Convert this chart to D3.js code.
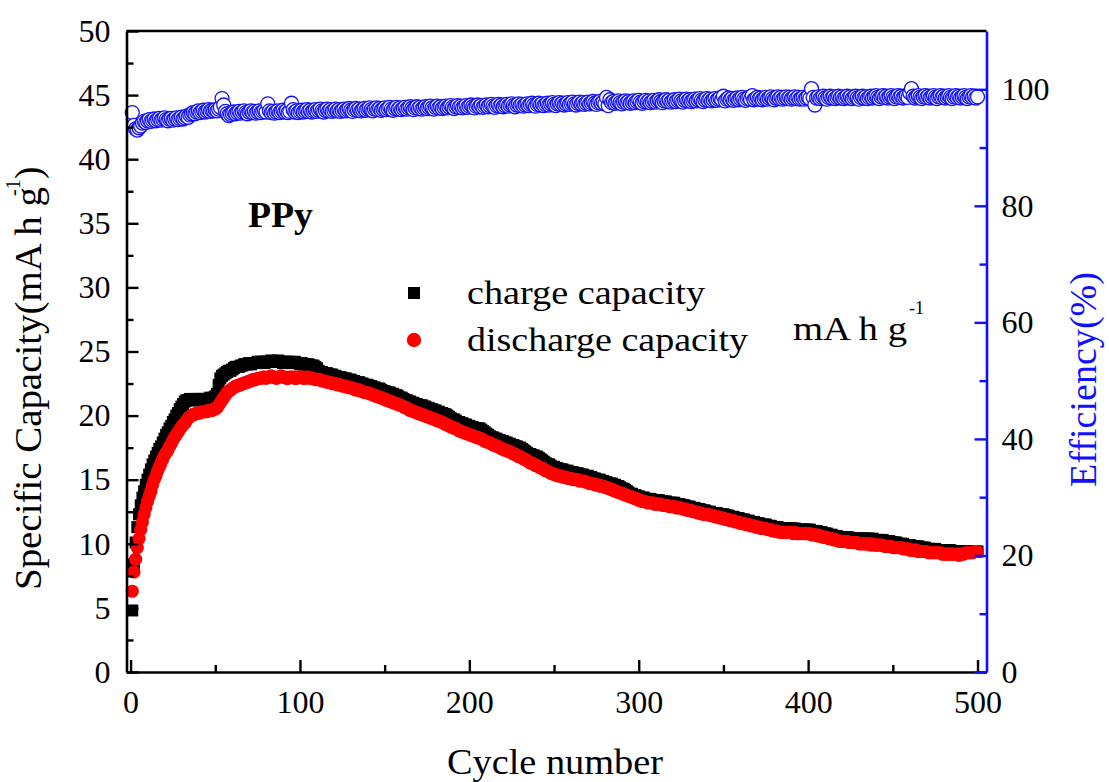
<!DOCTYPE html>
<html>
<head>
<meta charset="utf-8">
<script src="https://cdn.jsdelivr.net/npm/d3@7/dist/d3.min.js"></script>
<style>
  body { margin: 0; background: #fff; }
  svg text { font-family: "Liberation Serif", "Times New Roman", Times, serif; fill: #000; }
</style>
</head>
<body>
<svg id="chart" width="1109" height="782"></svg>
<script>
'use strict';

/* Data, one value per cycle (cycle 1 .. 500) */

var chargeCapacity = [
  4.8, 8.4, 10.1, 11.3, 12.3, 13.0, 13.6, 14.1, 14.6, 15.0, 15.4, 15.8, 16.2, 16.5, 16.8, 17.1, 17.4, 17.6, 17.9, 18.2, 18.5, 18.7, 19.0, 19.2, 19.5,
  19.7, 20.0, 20.2, 20.5, 20.7, 20.9, 21.1, 21.2, 21.2, 21.3, 21.2, 21.2, 21.3, 21.2, 21.3, 21.2, 21.3, 21.3, 21.2, 21.3, 21.3, 21.4, 21.3, 21.4, 21.5,
  21.7, 22.4, 22.9, 23.1, 23.2, 23.3, 23.4, 23.5, 23.5, 23.6, 23.7, 23.8, 23.8, 23.8, 23.9, 23.9, 24.0, 24.0, 24.0, 24.1, 24.0, 24.1, 24.1, 24.1, 24.2,
  24.1, 24.2, 24.2, 24.1, 24.2, 24.2, 24.2, 24.3, 24.2, 24.2, 24.2, 24.3, 24.2, 24.2, 24.1, 24.2, 24.2, 24.1, 24.2, 24.1, 24.1, 24.2, 24.1, 24.1, 24.0,
  24.1, 24.0, 24.0, 24.0, 24.0, 23.9, 23.9, 23.9, 23.8, 23.7, 23.5, 23.4, 23.4, 23.3, 23.3, 23.3, 23.2, 23.2, 23.2, 23.1, 23.1, 23.0, 23.0, 23.0, 22.9,
  22.9, 22.9, 22.8, 22.8, 22.8, 22.7, 22.7, 22.6, 22.6, 22.6, 22.5, 22.5, 22.4, 22.4, 22.4, 22.3, 22.3, 22.2, 22.2, 22.1, 22.1, 22.1, 22.0, 21.9, 21.9,
  21.8, 21.8, 21.8, 21.7, 21.7, 21.6, 21.6, 21.5, 21.4, 21.4, 21.3, 21.2, 21.2, 21.1, 21.1, 21.0, 21.0, 20.9, 20.9, 20.8, 20.8, 20.8, 20.7, 20.7, 20.6,
  20.6, 20.5, 20.5, 20.4, 20.4, 20.3, 20.3, 20.2, 20.2, 20.1, 20.1, 20.0, 19.9, 19.8, 19.7, 19.7, 19.6, 19.5, 19.5, 19.4, 19.4, 19.3, 19.3, 19.2, 19.2,
  19.1, 19.1, 19.0, 19.0, 19.0, 19.0, 18.9, 18.8, 18.7, 18.6, 18.5, 18.4, 18.3, 18.3, 18.2, 18.2, 18.1, 18.1, 18.0, 18.0, 17.9, 17.9, 17.8, 17.8, 17.7,
  17.7, 17.6, 17.6, 17.5, 17.5, 17.4, 17.3, 17.2, 17.1, 17.0, 17.0, 16.9, 16.9, 16.8, 16.8, 16.7, 16.6, 16.5, 16.4, 16.3, 16.2, 16.2, 16.1, 16.0, 16.0,
  15.9, 15.9, 15.8, 15.8, 15.8, 15.7, 15.7, 15.7, 15.6, 15.6, 15.6, 15.5, 15.5, 15.5, 15.4, 15.4, 15.4, 15.3, 15.3, 15.3, 15.2, 15.2, 15.1, 15.1, 15.0,
  15.0, 15.0, 14.9, 14.9, 14.8, 14.8, 14.7, 14.7, 14.7, 14.6, 14.6, 14.5, 14.5, 14.4, 14.3, 14.3, 14.2, 14.1, 14.0, 13.9, 13.9, 13.8, 13.8, 13.7, 13.7,
  13.6, 13.6, 13.6, 13.5, 13.5, 13.5, 13.5, 13.4, 13.4, 13.4, 13.4, 13.4, 13.3, 13.3, 13.3, 13.3, 13.2, 13.2, 13.2, 13.2, 13.2, 13.1, 13.1, 13.1, 13.0,
  13.0, 13.0, 12.9, 12.9, 12.9, 12.8, 12.8, 12.8, 12.7, 12.7, 12.7, 12.6, 12.6, 12.6, 12.5, 12.5, 12.5, 12.4, 12.4, 12.4, 12.4, 12.3, 12.3, 12.3, 12.3,
  12.2, 12.2, 12.2, 12.1, 12.1, 12.1, 12.0, 12.0, 12.0, 11.9, 11.9, 11.9, 11.8, 11.8, 11.8, 11.7, 11.7, 11.7, 11.6, 11.6, 11.6, 11.5, 11.5, 11.5, 11.5,
  11.4, 11.4, 11.4, 11.3, 11.3, 11.3, 11.3, 11.2, 11.2, 11.2, 11.2, 11.2, 11.2, 11.2, 11.2, 11.1, 11.2, 11.1, 11.1, 11.1, 11.1, 11.1, 11.1, 11.1, 11.1,
  11.1, 11.0, 11.0, 11.0, 11.0, 10.9, 10.9, 10.9, 10.8, 10.8, 10.8, 10.7, 10.7, 10.7, 10.6, 10.6, 10.6, 10.5, 10.5, 10.5, 10.5, 10.5, 10.5, 10.5, 10.4,
  10.4, 10.4, 10.4, 10.4, 10.4, 10.4, 10.4, 10.4, 10.4, 10.4, 10.4, 10.3, 10.4, 10.3, 10.3, 10.3, 10.3, 10.3, 10.3, 10.2, 10.2, 10.2, 10.2, 10.1, 10.1,
  10.1, 10.1, 10.0, 10.0, 10.0, 10.0, 9.9, 9.9, 9.9, 9.9, 9.8, 9.8, 9.8, 9.8, 9.8, 9.7, 9.7, 9.7, 9.7, 9.6, 9.6, 9.6, 9.6, 9.6, 9.6,
  9.5, 9.5, 9.5, 9.5, 9.5, 9.5, 9.5, 9.5, 9.5, 9.4, 9.4, 9.4, 9.4, 9.4, 9.4, 9.4, 9.4, 9.4, 9.4, 9.4, 9.4, 9.4, 9.4, 9.4, 9.4
];

var dischargeCapacity = [
  6.3, 7.8, 8.8, 9.7, 10.4, 11.1, 11.7, 12.3, 12.8, 13.3, 13.7, 14.1, 14.6, 15.0, 15.3, 15.7, 16.0, 16.3, 16.6, 16.9, 17.1, 17.3, 17.6, 17.8, 18.1,
  18.3, 18.5, 18.7, 18.9, 19.1, 19.3, 19.4, 19.6, 19.8, 19.9, 20.0, 20.1, 20.1, 20.2, 20.2, 20.2, 20.3, 20.3, 20.3, 20.3, 20.4, 20.4, 20.4, 20.5, 20.5,
  20.6, 20.8, 21.0, 21.2, 21.4, 21.6, 21.8, 21.9, 22.0, 22.1, 22.2, 22.3, 22.3, 22.4, 22.4, 22.5, 22.5, 22.6, 22.6, 22.7, 22.7, 22.8, 22.8, 22.8, 22.9,
  22.9, 22.9, 23.0, 23.0, 22.9, 23.0, 23.0, 23.1, 23.0, 23.0, 22.9, 23.0, 23.0, 23.1, 23.0, 23.0, 22.9, 22.9, 23.0, 23.0, 23.0, 22.9, 22.9, 23.0, 23.0,
  23.0, 22.9, 22.9, 23.0, 23.0, 22.9, 22.9, 22.9, 22.8, 22.8, 22.8, 22.8, 22.7, 22.7, 22.7, 22.6, 22.6, 22.6, 22.5, 22.5, 22.5, 22.4, 22.4, 22.4, 22.3,
  22.3, 22.3, 22.2, 22.2, 22.2, 22.1, 22.1, 22.0, 22.0, 22.0, 21.9, 21.9, 21.8, 21.8, 21.8, 21.7, 21.7, 21.6, 21.6, 21.5, 21.5, 21.4, 21.4, 21.3, 21.3,
  21.2, 21.2, 21.1, 21.1, 21.0, 21.0, 20.9, 20.9, 20.8, 20.8, 20.7, 20.6, 20.6, 20.5, 20.4, 20.4, 20.3, 20.3, 20.2, 20.2, 20.1, 20.1, 20.0, 20.0, 19.9,
  19.9, 19.8, 19.8, 19.7, 19.7, 19.6, 19.6, 19.5, 19.5, 19.4, 19.3, 19.3, 19.2, 19.1, 19.1, 19.0, 19.0, 18.9, 18.8, 18.8, 18.7, 18.7, 18.6, 18.6, 18.5,
  18.5, 18.4, 18.4, 18.3, 18.3, 18.2, 18.2, 18.1, 18.0, 18.0, 17.9, 17.9, 17.8, 17.7, 17.7, 17.6, 17.6, 17.5, 17.4, 17.4, 17.3, 17.3, 17.2, 17.2, 17.1,
  17.0, 17.0, 16.9, 16.8, 16.8, 16.7, 16.6, 16.6, 16.5, 16.4, 16.3, 16.3, 16.2, 16.1, 16.1, 16.0, 15.9, 15.9, 15.8, 15.7, 15.7, 15.6, 15.5, 15.5, 15.4,
  15.4, 15.3, 15.3, 15.3, 15.2, 15.2, 15.2, 15.1, 15.1, 15.1, 15.0, 15.0, 15.0, 15.0, 14.9, 14.9, 14.9, 14.9, 14.8, 14.8, 14.7, 14.7, 14.7, 14.6, 14.6,
  14.6, 14.5, 14.5, 14.5, 14.4, 14.4, 14.3, 14.3, 14.2, 14.2, 14.1, 14.1, 14.0, 14.0, 13.9, 13.9, 13.8, 13.8, 13.7, 13.7, 13.6, 13.6, 13.5, 13.5, 13.4,
  13.4, 13.3, 13.3, 13.3, 13.2, 13.2, 13.2, 13.2, 13.1, 13.1, 13.1, 13.1, 13.1, 13.0, 13.0, 13.0, 13.0, 12.9, 12.9, 12.9, 12.9, 12.8, 12.8, 12.8, 12.8,
  12.7, 12.7, 12.7, 12.6, 12.6, 12.6, 12.5, 12.5, 12.5, 12.4, 12.4, 12.4, 12.3, 12.3, 12.3, 12.3, 12.2, 12.2, 12.2, 12.1, 12.1, 12.1, 12.0, 12.0, 12.0,
  11.9, 11.9, 11.9, 11.8, 11.8, 11.8, 11.7, 11.7, 11.7, 11.6, 11.6, 11.6, 11.5, 11.5, 11.5, 11.4, 11.4, 11.4, 11.3, 11.3, 11.3, 11.2, 11.2, 11.2, 11.2,
  11.1, 11.1, 11.1, 11.0, 11.0, 11.0, 11.0, 10.9, 10.9, 10.9, 10.9, 10.9, 10.9, 10.9, 10.9, 10.8, 10.9, 10.8, 10.8, 10.8, 10.8, 10.8, 10.8, 10.8, 10.8,
  10.8, 10.7, 10.7, 10.7, 10.7, 10.6, 10.6, 10.6, 10.5, 10.5, 10.5, 10.4, 10.4, 10.4, 10.3, 10.3, 10.3, 10.2, 10.2, 10.2, 10.2, 10.2, 10.2, 10.1, 10.1,
  10.1, 10.1, 10.1, 10.1, 10.0, 10.0, 10.0, 10.0, 10.0, 10.0, 10.0, 9.9, 10.0, 9.9, 9.9, 9.9, 9.9, 9.9, 9.9, 9.8, 9.8, 9.8, 9.8, 9.8, 9.7,
  9.7, 9.7, 9.7, 9.7, 9.7, 9.6, 9.6, 9.6, 9.6, 9.5, 9.5, 9.5, 9.5, 9.5, 9.4, 9.4, 9.4, 9.4, 9.4, 9.4, 9.3, 9.3, 9.3, 9.3, 9.3,
  9.3, 9.3, 9.3, 9.2, 9.2, 9.2, 9.2, 9.2, 9.2, 9.2, 9.2, 9.2, 9.2, 9.1, 9.2, 9.2, 9.2, 9.3, 9.3, 9.3, 9.3, 9.3, 9.4, 9.4, 9.4
];

var efficiency = [
  96.0, 93.8, 93.2, 93.0, 93.4, 93.7, 94.2, 94.5, 94.3, 94.6, 94.8, 94.5, 94.7, 94.9, 94.6, 94.8, 95.0, 94.7, 94.9, 95.1, 94.8, 94.6, 94.9, 95.0, 94.7,
  94.9, 95.1, 94.8, 95.0, 95.2, 94.9, 95.1, 95.4, 95.2, 95.6, 95.8, 96.0, 95.8, 96.1, 96.3, 96.0, 96.2, 96.4, 96.1, 96.3, 96.5, 96.2, 96.4, 96.3, 96.5,
  96.3, 96.6, 96.9, 98.4, 97.3, 96.2, 95.8, 95.5, 95.7, 95.9, 96.1, 95.8, 96.0, 96.2, 95.9, 96.1, 96.3, 96.0, 95.8, 96.1, 96.3, 96.0, 96.2, 95.9, 96.1,
  96.3, 96.0, 96.2, 96.4, 96.1, 97.5, 96.3, 96.0, 96.2, 95.9, 96.1, 96.3, 96.0, 96.2, 96.4, 96.1, 96.3, 96.0, 96.2, 97.6, 96.5, 96.1, 96.3, 96.0, 96.2,
  96.4, 96.1, 96.3, 96.5, 96.2, 96.4, 96.1, 96.3, 96.5, 96.2, 96.4, 96.6, 96.3, 96.1, 96.4, 96.6, 96.3, 96.5, 96.2, 96.4, 96.6, 96.3, 96.5, 96.2, 96.4,
  96.6, 96.3, 96.5, 96.7, 96.4, 96.2, 96.5, 96.7, 96.4, 96.6, 96.3, 96.5, 96.7, 96.4, 96.6, 96.8, 96.5, 96.3, 96.6, 96.8, 96.5, 96.7, 96.4, 96.6, 96.8,
  96.5, 96.7, 96.9, 96.6, 96.4, 96.7, 96.9, 96.6, 96.8, 96.5, 96.7, 96.9, 96.6, 96.8, 97.0, 96.7, 96.5, 96.8, 97.0, 96.7, 96.9, 96.6, 96.8, 97.0, 96.7,
  96.9, 97.1, 96.8, 96.6, 96.9, 97.1, 96.8, 97.0, 96.7, 96.9, 97.1, 96.8, 97.0, 97.2, 96.9, 96.7, 97.0, 97.2, 96.9, 97.1, 96.8, 97.0, 97.2, 96.9, 97.1,
  97.3, 97.0, 96.8, 97.1, 97.3, 97.0, 97.2, 96.9, 97.1, 97.3, 97.0, 97.2, 97.4, 97.1, 96.9, 97.2, 97.4, 97.1, 97.3, 97.0, 97.2, 97.4, 97.1, 97.3, 97.5,
  97.2, 97.0, 97.3, 97.5, 97.2, 97.4, 97.1, 97.3, 97.5, 97.2, 97.4, 97.6, 97.3, 97.1, 97.4, 97.6, 97.3, 97.5, 97.2, 97.4, 97.6, 97.3, 97.5, 97.7, 97.4,
  97.2, 97.5, 97.7, 97.4, 97.6, 97.3, 97.5, 97.7, 97.4, 97.6, 97.8, 97.5, 97.3, 97.6, 97.8, 97.5, 97.7, 97.4, 97.6, 97.8, 97.5, 97.7, 97.9, 97.6, 97.4,
  97.7, 97.9, 97.6, 97.8, 97.5, 98.6, 97.2, 98.2, 97.7, 97.9, 97.6, 97.8, 98.0, 97.7, 97.5, 97.8, 98.0, 97.7, 97.9, 97.6, 97.8, 98.0, 97.7, 97.9, 98.1,
  97.8, 97.6, 97.9, 98.1, 97.8, 98.0, 97.7, 97.9, 98.1, 97.8, 98.0, 98.2, 97.9, 97.7, 98.0, 98.2, 97.9, 98.1, 97.8, 98.0, 98.2, 97.9, 98.1, 98.3, 98.0,
  97.8, 98.1, 98.3, 98.0, 98.2, 97.9, 98.1, 98.3, 98.0, 98.2, 98.4, 98.1, 97.9, 98.2, 98.4, 98.1, 98.3, 98.0, 98.2, 98.4, 98.1, 98.3, 98.5, 98.2, 98.8,
  98.0, 98.3, 98.5, 98.2, 98.4, 98.1, 98.3, 98.5, 98.2, 98.4, 98.6, 98.3, 98.1, 98.4, 98.6, 98.3, 98.9, 98.2, 98.4, 98.6, 98.3, 98.5, 98.2, 98.4, 98.6,
  98.3, 98.5, 98.7, 98.4, 98.2, 98.5, 98.7, 98.4, 98.6, 98.3, 98.5, 98.7, 98.4, 98.6, 98.3, 98.5, 98.7, 98.4, 98.6, 98.3, 98.4, 98.6, 98.3, 98.5, 98.7,
  98.4, 100.1, 98.6, 97.3, 98.5, 98.7, 98.4, 98.6, 98.8, 98.5, 98.3, 98.6, 98.8, 98.5, 98.7, 98.4, 98.6, 98.8, 98.5, 98.7, 98.4, 98.6, 98.8, 98.5, 98.7,
  98.4, 98.6, 98.8, 98.5, 98.3, 98.6, 98.8, 98.5, 98.7, 98.4, 98.6, 98.8, 98.5, 98.7, 98.9, 98.6, 98.4, 98.7, 98.9, 98.6, 98.8, 98.5, 98.7, 98.9, 98.6,
  98.4, 98.7, 98.9, 98.6, 98.8, 98.5, 98.7, 98.9, 98.6, 99.4, 100.1, 98.8, 98.5, 98.7, 98.9, 98.6, 98.4, 98.7, 98.9, 98.6, 98.8, 98.5, 98.7, 98.9, 98.6,
  98.4, 98.7, 98.9, 98.6, 98.8, 98.5, 98.7, 98.9, 98.6, 98.4, 98.7, 98.9, 98.6, 98.8, 98.5, 98.7, 98.9, 98.6, 98.4, 98.7, 98.9, 98.6, 98.8, 98.5, 98.7
];

var xTicks = [0, 100, 200, 300, 400, 500];
var xMinorTicks = [50, 150, 250, 350, 450];
var yTicks = [0, 5, 10, 15, 20, 25, 30, 35, 40, 45, 50];
var yMinorTicks = [2.5, 7.5, 12.5, 17.5, 22.5, 27.5, 32.5, 37.5, 42.5, 47.5];
var effTicks = [0, 20, 40, 60, 80, 100];
var effMinorTicks = [10, 30, 50, 70, 90];

var seriesNames = ['charge capacity', 'discharge capacity'];

var BLUE = '#1010ff';

/* Frame */

var plotLeft = 126.5, plotRight = 986.5, plotTop = 31, plotBottom = 672;

var svg = d3.select('#chart');
svg.append('rect').attr('width', 1109).attr('height', 782).attr('fill', '#fff');

var x = d3.scaleLinear().domain([-2.4, 505.3]).range([plotLeft, plotRight]);
var y = d3.scaleLinear().domain([0, 50]).range([plotBottom, plotTop]);
var yEff = d3.scaleLinear().domain([0, 110]).range([plotBottom, plotTop]);

// stretch a text so it covers the same width as in the picture
var fitWidth = function (sel, w) {
    sel.attr('textLength', w).attr('lengthAdjust', 'spacingAndGlyphs');
};

/* Points: charge, then discharge, then efficiency on top */

var plot = svg.append('g');

plot.append('g').selectAll('rect')
    .data(chargeCapacity)
    .enter().append('rect')
    .attr('x', function (d, i) { return x(i + 1) - 6; })
    .attr('y', function (d) { return y(d) - 6; })
    .attr('width', 12).attr('height', 12)
    .attr('fill', '#000');

plot.append('g').selectAll('circle')
    .data(dischargeCapacity)
    .enter().append('circle')
    .attr('cx', function (d, i) { return x(i + 1); })
    .attr('cy', function (d) { return y(d); })
    .attr('r', 6.6)
    .attr('fill', '#ff0000');

plot.append('g').selectAll('circle')
    .data(efficiency)
    .enter().append('circle')
    .attr('cx', function (d, i) { return x(i + 1); })
    .attr('cy', function (d) { return yEff(d); })
    .attr('r', 7)
    .attr('fill', '#fff')
    .attr('stroke', BLUE)
    .attr('stroke-width', 1.3);

/* Axes, ticks pointing inwards */

var styleAxis = function (g, color) {
    g.selectAll('.domain').attr('stroke', color).attr('stroke-width', 2.6);
    g.selectAll('.tick line').attr('stroke', color).attr('stroke-width', 2.4);
    g.selectAll('text').attr('font-size', 32).attr('fill', '#000');
};

var gx = svg.append('g').attr('transform', 'translate(0,' + plotBottom + ')')
    .call(d3.axisBottom(x).tickValues(xTicks).tickSizeInner(-12).tickSizeOuter(0).tickPadding(18));
styleAxis(gx, '#000');
svg.append('g').attr('transform', 'translate(0,' + plotBottom + ')')
    .call(d3.axisBottom(x).tickValues(xMinorTicks).tickSizeInner(-7).tickSizeOuter(0).tickFormat(''))
    .call(function (g) { g.select('.domain').remove(); styleAxis(g, '#000'); });

var gy = svg.append('g').attr('transform', 'translate(' + plotLeft + ',0)')
    .call(d3.axisLeft(y).tickValues(yTicks).tickSizeInner(-12).tickSizeOuter(0).tickPadding(16));
styleAxis(gy, '#000');
svg.append('g').attr('transform', 'translate(' + plotLeft + ',0)')
    .call(d3.axisLeft(y).tickValues(yMinorTicks).tickSizeInner(-7).tickSizeOuter(0).tickFormat(''))
    .call(function (g) { g.select('.domain').remove(); styleAxis(g, '#000'); });

// top border, no ticks
svg.append('line')
    .attr('x1', plotLeft).attr('x2', plotRight).attr('y1', plotTop).attr('y2', plotTop)
    .attr('stroke', '#000').attr('stroke-width', 2.6);

var gr = svg.append('g').attr('transform', 'translate(' + plotRight + ',0)')
    .call(d3.axisRight(yEff).tickValues(effTicks).tickSizeInner(-12).tickSizeOuter(0).tickPadding(15));
styleAxis(gr, BLUE);
svg.append('g').attr('transform', 'translate(' + plotRight + ',0)')
    .call(d3.axisRight(yEff).tickValues(effMinorTicks).tickSizeInner(-7).tickSizeOuter(0).tickFormat(''))
    .call(function (g) { g.select('.domain').remove(); styleAxis(g, BLUE); });

/* Titles */

svg.append('text')
    .attr('x', 447).attr('y', 774)
    .attr('font-size', 35)
    .text('Cycle number')
    .call(fitWidth, 216);

// left title in three pieces: text, superscript, closing bracket
svg.append('text')
    .attr('transform', 'translate(41,590) rotate(-90)')
    .attr('font-size', 37)
    .text('Specific Capacity(mA h g')
    .call(fitWidth, 403);
svg.append('text')
    .attr('transform', 'translate(20,196) rotate(-90)')
    .attr('font-size', 20)
    .text('-1');
svg.append('text')
    .attr('transform', 'translate(41,179) rotate(-90)')
    .attr('font-size', 37)
    .text(')');

svg.append('text')
    .attr('transform', 'translate(1096,487) rotate(-90)')
    .attr('font-size', 37)
    .style('fill', BLUE)
    .text('Efficiency(%)')
    .call(fitWidth, 215);

svg.append('text')
    .attr('x', 248).attr('y', 227)
    .attr('font-size', 36).attr('font-weight', 'bold')
    .text('PPy')
    .call(fitWidth, 65);

svg.append('text')
    .attr('x', 793).attr('y', 340)
    .attr('font-size', 33)
    .text('mA h g')
    .call(fitWidth, 114);
svg.append('text')
    .attr('x', 909).attr('y', 314)
    .attr('font-size', 18)
    .text('-1');

/* Legend */

var legend = svg.append('g');
legend.append('rect')
    .attr('x', 408).attr('y', 287).attr('width', 12).attr('height', 12)
    .attr('fill', '#000');
legend.append('circle')
    .attr('cx', 414).attr('cy', 340).attr('r', 7.2)
    .attr('fill', '#ff0000');
legend.append('text')
    .attr('x', 467).attr('y', 304)
    .attr('font-size', 33)
    .text(seriesNames[0])
    .call(fitWidth, 238);
legend.append('text')
    .attr('x', 467).attr('y', 351)
    .attr('font-size', 33)
    .text(seriesNames[1])
    .call(fitWidth, 281);
</script>
</body>
</html>
